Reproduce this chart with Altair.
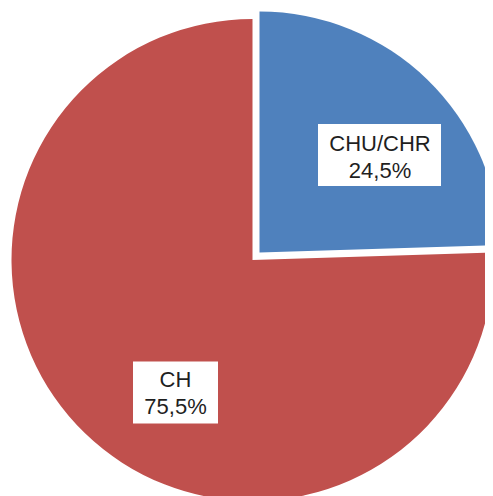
import altair as alt
import pandas as pd

# Data
cats = ["CHU/CHR", "CH"]
vals = [24.5, 75.5]
colors = ["#4F81BD", "#C0504D"]

df = pd.DataFrame({"cat": cats, "val": vals})

TWO_PI = 6.283185307179586
R = 241

base = (
    alt.Chart(df)
    .transform_window(cum="sum(val)", frame=[None, 0])
    .transform_calculate(
        start="datum.cum - datum.val",
        label="datum.cat + '\\n' + replace(format(datum.val, '.1f'), '.', ',') + '%'",
    )
)

theta = alt.Theta("start:Q", scale=alt.Scale(domain=[0, 100], range=[0, TWO_PI]))
theta2 = alt.Theta2("cum:Q")
color = alt.Color("cat:N", scale=alt.Scale(domain=cats, range=colors), legend=None)

red_arc = base.transform_filter("datum.cat == 'CH'").mark_arc(radius=R).encode(
    theta=theta, theta2=theta2, color=color,
    x=alt.value(244.5), y=alt.value(252),
)
blue_arc = base.transform_filter("datum.cat == 'CHU/CHR'").mark_arc(radius=R).encode(
    theta=theta, theta2=theta2, color=color,
    x=alt.value(251.5), y=alt.value(244.5),
)

blue_box = base.transform_filter("datum.cat == 'CHU/CHR'").mark_rect(color="white").encode(
    x=alt.value(310), x2=alt.value(433), y=alt.value(116), y2=alt.value(178)
)
red_box = base.transform_filter("datum.cat == 'CH'").mark_rect(color="white").encode(
    x=alt.value(125), x2=alt.value(210), y=alt.value(353.5), y2=alt.value(415.5)
)

text_props = dict(
    font="Liberation Sans", fontSize=22, color="#1f1f1f",
    lineBreak="\n", lineHeight=27, align="center", baseline="alphabetic",
)
blue_text = base.transform_filter("datum.cat == 'CHU/CHR'").mark_text(**text_props).encode(
    text="label:N", x=alt.value(372), y=alt.value(143)
)
red_text = base.transform_filter("datum.cat == 'CH'").mark_text(**text_props).encode(
    text="label:N", x=alt.value(167.5), y=alt.value(379.3)
)

chart = (
    alt.layer(red_arc, blue_arc, blue_box, red_box, blue_text, red_text)
    .properties(width=477, height=488, padding=0, autosize=alt.AutoSizeParams(type="none"))
    .configure_view(stroke=None)
)

chart.save("out.html", embed_options={"renderer": "svg", "actions": False})
